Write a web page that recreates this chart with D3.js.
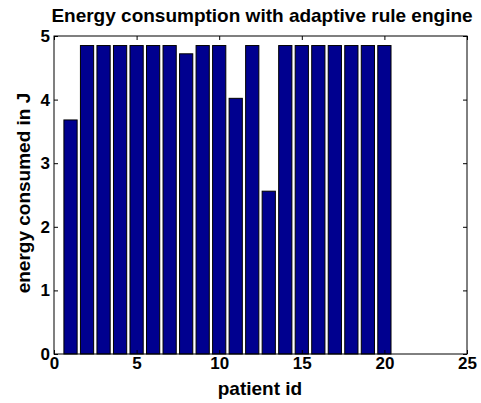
<!DOCTYPE html>
<html>
<head>
<meta charset="utf-8">
<script src="https://cdn.jsdelivr.net/npm/d3@7"></script>
<style>
  html, body { margin: 0; padding: 0; background: #fff; }
  svg { display: block; }
  text { font-family: "Liberation Sans", Arial, Helvetica, sans-serif; font-weight: bold; fill: #000; }
</style>
</head>
<body>
<svg id="chart" width="481" height="403"></svg>
<script>
// Energy consumed per patient (J)
const patientIds = [1, 2, 3, 4, 5, 6, 7, 8, 9, 10, 11, 12, 13, 14, 15, 16, 17, 18, 19, 20];
const energyJ = [3.68, 4.85, 4.85, 4.85, 4.85, 4.85, 4.85, 4.72, 4.85, 4.85,
                 4.02, 4.85, 2.56, 4.85, 4.85, 4.85, 4.85, 4.85, 4.85, 4.85];
const xTicks = [0, 5, 10, 15, 20, 25];
const yTicks = [0, 1, 2, 3, 4, 5];
const titleText = "Energy consumption with adaptive rule engine";
const xLabelText = "patient id";
const yLabelText = "energy consumed in J";

const svg = d3.select("#chart");
const plotLeft = 54, plotRight = 467, plotTop = 36, plotBottom = 354;

const x = d3.scaleLinear().domain([0, 25]).range([plotLeft, plotRight]);
const y = d3.scaleLinear().domain([0, 5]).range([plotBottom, plotTop]);
const barWidth = 0.8;

// bars
svg.append("g").selectAll("rect")
  .data(patientIds)
  .join("rect")
  .attr("x", (d) => x(d - barWidth / 2))
  .attr("width", (d) => x(d + barWidth / 2) - x(d - barWidth / 2))
  .attr("y", (d, i) => y(energyJ[i]))
  .attr("height", (d, i) => y(0) - y(energyJ[i]))
  .attr("fill", "#00008f")
  .attr("stroke", "#000")
  .attr("stroke-width", 1);

// axes with inward ticks on all four sides
const tickLen = 4;
const axB = d3.axisBottom(x).tickValues(xTicks).tickSize(-tickLen).tickPadding(3).tickFormat(d3.format("d"));
const axT = d3.axisTop(x).tickValues(xTicks).tickSize(-tickLen).tickFormat("");
const axL = d3.axisLeft(y).tickValues(yTicks).tickSize(-tickLen).tickPadding(4).tickFormat(d3.format("d"));
const axR = d3.axisRight(y).tickValues(yTicks).tickSize(-tickLen).tickFormat("");

function style(g) {
  g.select(".domain").remove();
  g.selectAll(".tick line").attr("stroke", "#000").attr("stroke-width", 1);
  g.selectAll(".tick text").style("font-size", "17px").style("font-family", "Liberation Sans, Arial, sans-serif").style("font-weight", "bold");
}
svg.append("g").attr("transform", `translate(0,${plotBottom})`).call(axB).call(style);
svg.append("g").attr("transform", `translate(0,${plotTop})`).call(axT).call(style);
svg.append("g").attr("transform", `translate(${plotLeft},0)`).call(axL).call(style);
svg.append("g").attr("transform", `translate(${plotRight},0)`).call(axR).call(style);

// axes box
svg.append("rect")
  .attr("x", plotLeft).attr("y", plotTop)
  .attr("width", plotRight - plotLeft).attr("height", plotBottom - plotTop)
  .attr("fill", "none").attr("stroke", "#000").attr("stroke-width", 1);

// title and labels
svg.append("text")
  .attr("x", 262).attr("y", 22)
  .attr("text-anchor", "middle").style("font-size", "19px")
  .text(titleText);

svg.append("text")
  .attr("x", 260).attr("y", 395)
  .attr("text-anchor", "middle").style("font-size", "19px")
  .text(xLabelText);

svg.append("text")
  .attr("transform", `translate(30,193) rotate(-90)`)
  .attr("text-anchor", "middle").style("font-size", "19px")
  .text(yLabelText);
</script>
</body>
</html>
